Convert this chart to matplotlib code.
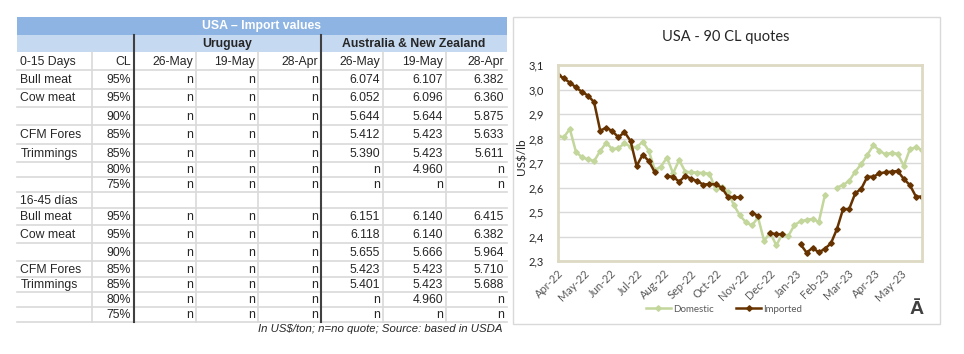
import numpy as np
import pandas as pd
import matplotlib
matplotlib.use("Agg")
import matplotlib.pyplot as plt
import matplotlib.dates as mdates
from matplotlib.patches import Rectangle
from matplotlib.ticker import FuncFormatter

# ---- table data ----
table_title = "USA – Import values"
origins = ["Uruguay", "Australia & New Zealand"]
dates_hdr = ["26-May", "19-May", "28-Apr"]
group_labels = ["0-15 Days", "16-45 días"]
products = ["Bull meat", "Cow meat", "", "CFM Fores", "Trimmings", "", ""]
cl = ["95%", "95%", "90%", "85%", "85%", "80%", "75%"]
uy_0_15 = [["n", "n", "n"]] * 7
uy_16_45 = [["n", "n", "n"]] * 7
au_0_15 = [["6.074", "6.107", "6.382"],
           ["6.052", "6.096", "6.360"],
           ["5.644", "5.644", "5.875"],
           ["5.412", "5.423", "5.633"],
           ["5.390", "5.423", "5.611"],
           ["n", "4.960", "n"],
           ["n", "n", "n"]]
au_16_45 = [["6.151", "6.140", "6.415"],
            ["6.118", "6.140", "6.382"],
            ["5.655", "5.666", "5.964"],
            ["5.423", "5.423", "5.710"],
            ["5.401", "5.423", "5.688"],
            ["n", "4.960", "n"],
            ["n", "n", "n"]]
footnote = "In US$/ton; n=no quote; Source: based in USDA"

# ---- chart data (weekly, US$/lb) ----
nan = np.nan
dates = pd.date_range("2022-04-01", periods=61, freq="7D")
domestic = [2.810, 2.805, 2.839, 2.746, 2.723, 2.715, 2.708, 2.749, 2.783, 2.756,
            2.761, 2.780, 2.767, 2.764, 2.787, 2.750, 2.671, 2.685, 2.722, 2.658,
            2.712, 2.665, 2.662, 2.661, 2.659, 2.656, 2.592, 2.603, 2.583, 2.529,
            2.486, 2.458, 2.445, 2.478, 2.382, 2.416, 2.364, 2.410, 2.403, 2.447,
            2.462, 2.468, 2.472, 2.459, 2.568, nan, 2.600, 2.610, 2.627, 2.664,
            2.696, 2.733, 2.773, 2.750, 2.735, 2.742, 2.737, 2.688, 2.756, 2.764, 2.753]
imported = [3.061, 3.046, 3.028, 3.009, 2.990, 2.975, 2.948, 2.832, 2.844, 2.830,
            2.805, 2.826, 2.790, 2.688, 2.734, 2.708, 2.662, nan, 2.646, 2.644,
            2.624, 2.647, 2.636, 2.625, 2.612, 2.614, 2.613, 2.600, 2.563, 2.560,
            2.560, nan, 2.497, 2.484, nan, 2.413, 2.410, 2.409, nan, nan,
            2.368, 2.334, 2.354, 2.335, 2.350, 2.372, 2.431, 2.512, 2.512, 2.576,
            2.595, 2.644, 2.644, 2.658, 2.662, 2.665, 2.667, 2.635, 2.610, 2.563, 2.563]

# ---- layout (pixels) ----
col_edges = [17, 92, 134, 196, 258, 321, 383, 446, 507]
row_edges = [17, 35, 52, 70, 88.5, 106.5, 125, 143.5, 162, 177, 192, 207.5,
             225, 243, 261, 276.5, 291.5, 307, 322]
tfont = "Liberation Sans"
cfont = "Lato"
tc = "#262626"
fs = 8.8

fig = plt.figure(figsize=(9.64, 3.54), dpi=100)
bg = fig.add_axes([0, 0, 1, 1])
bg.set_xlim(0, 964)
bg.set_ylim(354, 0)
bg.axis("off")

# title bands
bg.add_patch(Rectangle((17, 17), 490, 18, color="#8DB4E2", lw=0))
bg.add_patch(Rectangle((17, 35), 490, 17, color="#C5D9F1", lw=0))
bg.text(262, 26.5, table_title, color="white", weight="bold", ha="center",
        va="center", fontsize=fs, family=tfont)
bg.text((col_edges[2] + col_edges[5]) / 2, 44, origins[0], weight="bold",
        ha="center", va="center", fontsize=fs, family=tfont, color=tc)
bg.text((col_edges[5] + col_edges[8]) / 2, 44, origins[1], weight="bold",
        ha="center", va="center", fontsize=fs, family=tfont, color=tc)

# grid lines of the table
for y in row_edges[3:]:
    bg.plot([17, 507], [y, y], color="#D9D9D9", lw=1.2)
for x in [92, 196, 258, 383, 446]:
    bg.plot([x, x], [52, 322], color="#D9D9D9", lw=1.2)
for x in [134, 321]:
    bg.plot([x, x], [35, 322], color="#404040", lw=1.5)


def cell_text(row, col, txt, left=False):
    y = (row_edges[row] + row_edges[row + 1]) / 2 + 0.8
    if left:
        bg.text(col_edges[col] + 3.5, y, txt, ha="left", va="center",
                fontsize=fs, family=tfont, color=tc)
    else:
        bg.text(col_edges[col + 1] - 3, y, txt, ha="right", va="center",
                fontsize=fs, family=tfont, color=tc)


# header row
cell_text(2, 0, group_labels[0], left=True)
cell_text(2, 1, "CL")
for j, d in enumerate(dates_hdr):
    cell_text(2, 2 + j, d)
    cell_text(2, 5 + j, d)

for start, uy, au in [(3, uy_0_15, au_0_15), (11, uy_16_45, au_16_45)]:
    for r in range(7):
        if products[r]:
            cell_text(start + r, 0, products[r], left=True)
        cell_text(start + r, 1, cl[r])
        for j in range(3):
            cell_text(start + r, 2 + j, uy[r][j])
            cell_text(start + r, 5 + j, au[r][j])
cell_text(10, 0, group_labels[1], left=True)

bg.text(503, 329, footnote, ha="right", va="center", style="italic",
        fontsize=8.2, family=tfont, color=tc)

# ---- chart ----
bg.add_patch(Rectangle((513, 17), 427, 307, fill=False, ec="#D9D9D9", lw=1))
bg.text(726, 37, "USA - 90 CL quotes", ha="center", va="center",
        fontsize=10.5, family=cfont, color="#262626")
bg.text(917, 310, "Ā", ha="center", va="center", fontsize=14,
        weight="bold", family=tfont, color="#404040")

ax = fig.add_axes([557.7 / 964, 1 - 261 / 354, (922 - 557.7) / 964, (261 - 65) / 354])
ax.plot(dates, domestic, color="#C3D69B", marker="D", ms=2.8, lw=1.8, label="Domestic")
ax.plot(dates, imported, color="#663300", marker="D", ms=2.8, lw=1.8, label="Imported")
ax.set_xlim(dates[0], dates[-1])
ax.set_ylim(2.3, 3.1)
ax.set_yticks(np.arange(2.3, 3.11, 0.1))
ax.yaxis.set_major_formatter(FuncFormatter(lambda v, p: f"{v:.1f}".replace(".", ",")))
ax.xaxis.set_major_locator(mdates.MonthLocator())
ax.xaxis.set_major_formatter(mdates.DateFormatter("%b-%y"))
ax.tick_params(axis="y", length=0, pad=10, labelsize=8, labelcolor="#262626")
ax.tick_params(axis="x", length=0, pad=5, labelsize=8, labelcolor="#595959")
for lab in ax.get_yticklabels() + ax.get_xticklabels():
    lab.set_family(cfont)
for lab in ax.get_xticklabels():
    lab.set_rotation(45)
    lab.set_ha("right")
    lab.set_rotation_mode("anchor")
ax.grid(axis="y", color="#D9D9D9", lw=1)
ax.set_axisbelow(True)
for s in ax.spines.values():
    s.set_color("#DDD9C3")
    s.set_linewidth(2)
ax.set_ylabel("US$/lb", fontsize=8.5, family=cfont, color="#262626")
ax.yaxis.set_label_coords(-0.083, 0.53)

leg = fig.legend(*ax.get_legend_handles_labels(), loc="center",
                 bbox_to_anchor=(724 / 964, 1 - 309 / 354), ncol=2, frameon=False,
                 prop={"family": cfont, "size": 7}, handlelength=2.6,
                 handletextpad=0.2, columnspacing=2.3)
for t in leg.get_texts():
    t.set_color("#595959")

fig.savefig("out.png", dpi=100)
